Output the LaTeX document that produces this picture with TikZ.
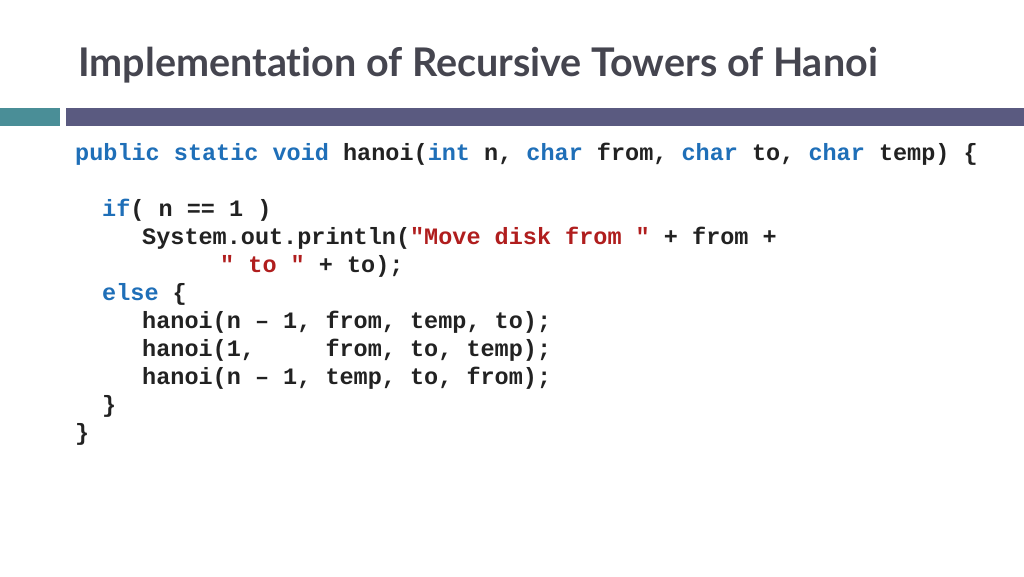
\documentclass[tikz,border=0pt]{standalone}
\usepackage{fontspec}
\setmainfont{Lato}[Ligatures={NoCommon}]
\newfontfamily\codefont{Liberation Mono}
\definecolor{titlegray}{HTML}{45454F}
\definecolor{barteal}{HTML}{4A8E97}
\definecolor{barpurple}{HTML}{5A5A80}
\definecolor{kwblue}{HTML}{1F6FB8}
\definecolor{strred}{HTML}{B01E1E}
\definecolor{codegray}{HTML}{222222}
\newcommand{\kw}[1]{\textcolor{kwblue}{#1}}
\newcommand{\str}[1]{\textcolor{strred}{#1}}
\begin{document}
\begin{tikzpicture}[x=1pt,y=-1pt,
  codeline/.style={anchor=base west,inner sep=0pt,text=codegray,font=\codefont\bfseries\fontsize{23.5}{28}\selectfont}]
\useasboundingbox[fill=white] (0,0) rectangle (1024,576);
\node [anchor=base west,inner sep=0pt,text=titlegray,font=\bfseries\fontsize{39.5}{42}\selectfont] (title) at (78,76) {Implementation of Recursive Towers of Hanoi};
\fill [barteal] (0,108) rectangle (60,126);
\fill [barpurple] (66,108) rectangle (1024,126);
\node [codeline] (l1) at (75,160) {\kw{public static void} hanoi(\kw{int} n, \kw{char} from, \kw{char} to, \kw{char} temp) \{};
\node [codeline] (l2) at (102,216) {\kw{if}( n == 1 )};
\node [codeline] (l3) at (142,244) {System.out.println(\str{"Move~disk~from~"} + from +};
\node [codeline] (l4) at (220,272) {\str{"~to~"} + to);};
\node [codeline] (l5) at (102,300) {\kw{else} \{};
\node [codeline] (l6) at (142,328) {hanoi(n – 1, from, temp, to);};
\node [codeline] (l7) at (142,356) {hanoi(1,~~~~~from, to, temp);};
\node [codeline] (l8) at (142,384) {hanoi(n – 1, temp, to, from);};
\node [codeline] (l9) at (102,412) {\}};
\node [codeline] (l10) at (75,440) {\}};
\end{tikzpicture}
\end{document}
